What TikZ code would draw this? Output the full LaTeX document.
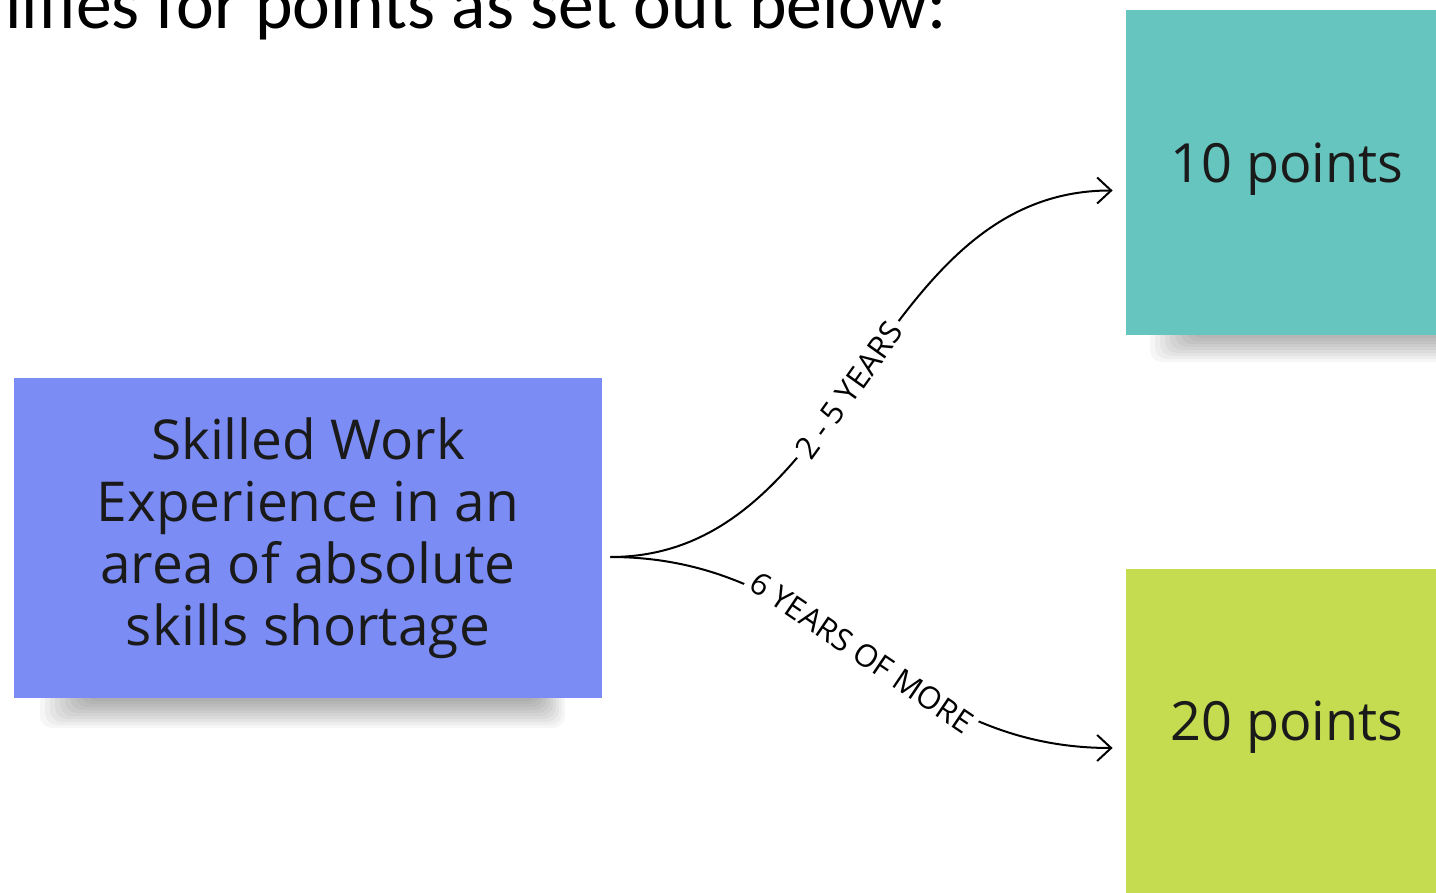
\documentclass[tikz,border=0pt]{standalone}
\usepackage{fontspec}
\setmainfont{Open Sans}
\newfontfamily\carlito{Carlito}
\usetikzlibrary{arrows.meta}
\definecolor{noteblue}{HTML}{7B8CF5}
\definecolor{noteteal}{HTML}{66C6BF}
\definecolor{notegreen}{HTML}{C6DC50}
\definecolor{inkdark}{HTML}{1A1A1A}
\tikzset{
  note/.style={draw=none, inner sep=0pt, text=inkdark, align=center},
  link/.style={line width=1pt, draw=black, -{Straight Barb[length=7pt,width=13pt,line width=1pt]}},
  linklabel/.style={sloped, fill=white, inner sep=2.5pt, text=black, font=\fontsize{15.5}{18}\selectfont},
  shadowbit/.style={fill=black, opacity=0.035, rounded corners=6pt}
}
\begin{document}
\begin{tikzpicture}[x=0.5pt,y=-0.5pt]
\useasboundingbox (0,0) rectangle (1436,893);
\clip (0,0) rectangle (1436,893);
\fill[white] (0,0) rectangle (1436,893);

% title (cut off at top)
\node[anchor=base west, inner sep=0pt, font=\carlito\fontsize{35.8}{42}\selectfont] (title) at (5,29) {lifies for points as set out below:};

% shadows
\foreach \i in {0,...,9}
  \fill[shadowbit] (40+\i*5, 688) rectangle (565-\i*3, 728-\i*3);
\foreach \i in {0,...,9}
  \fill[shadowbit] (1150+\i*5, 325) rectangle (1460, 362-\i*3);

% sticky notes
\node[note, fill=noteblue, minimum width=294pt, minimum height=160pt,
      font=\fontsize{27.5}{31}\selectfont] (skill) at (308,538)
  {Skilled Work\\Experience in an\\area of absolute\\skills shortage};
\node[note, fill=noteteal, minimum width=161pt, minimum height=162.5pt] (ten) at (1287,172.5) {};
\node[note, fill=notegreen, minimum width=161pt, minimum height=162.5pt] (twenty) at (1287,731.5) {};
\node[anchor=base, inner sep=0pt, text=inkdark, font=\fontsize{27}{32}\selectfont] (tenlabel) at (1287,183) {10 points};
\node[anchor=base, inner sep=0pt, text=inkdark, font=\fontsize{27}{32}\selectfont] (twentylabel) at (1287,740) {20 points};

% connector ends
\coordinate (fork) at ([xshift=4pt,yshift=-9.5pt]skill.east);
\coordinate (tenend) at ([xshift=-6.5pt,yshift=-9pt]ten.west);
\coordinate (twentyend) at ([xshift=-6.5pt,yshift=-8.25pt]twenty.west);

% connectors
\draw[link] (fork) .. controls +(240,0) and +(-242,0) .. node[linklabel, pos=0.47] {2 - 5 YEARS} (tenend);
\draw[link] (fork) .. controls +(220,0) and +(-220,0) .. node[linklabel, pos=0.5] {6 YEARS OF MORE} (twentyend);
\end{tikzpicture}
\end{document}
